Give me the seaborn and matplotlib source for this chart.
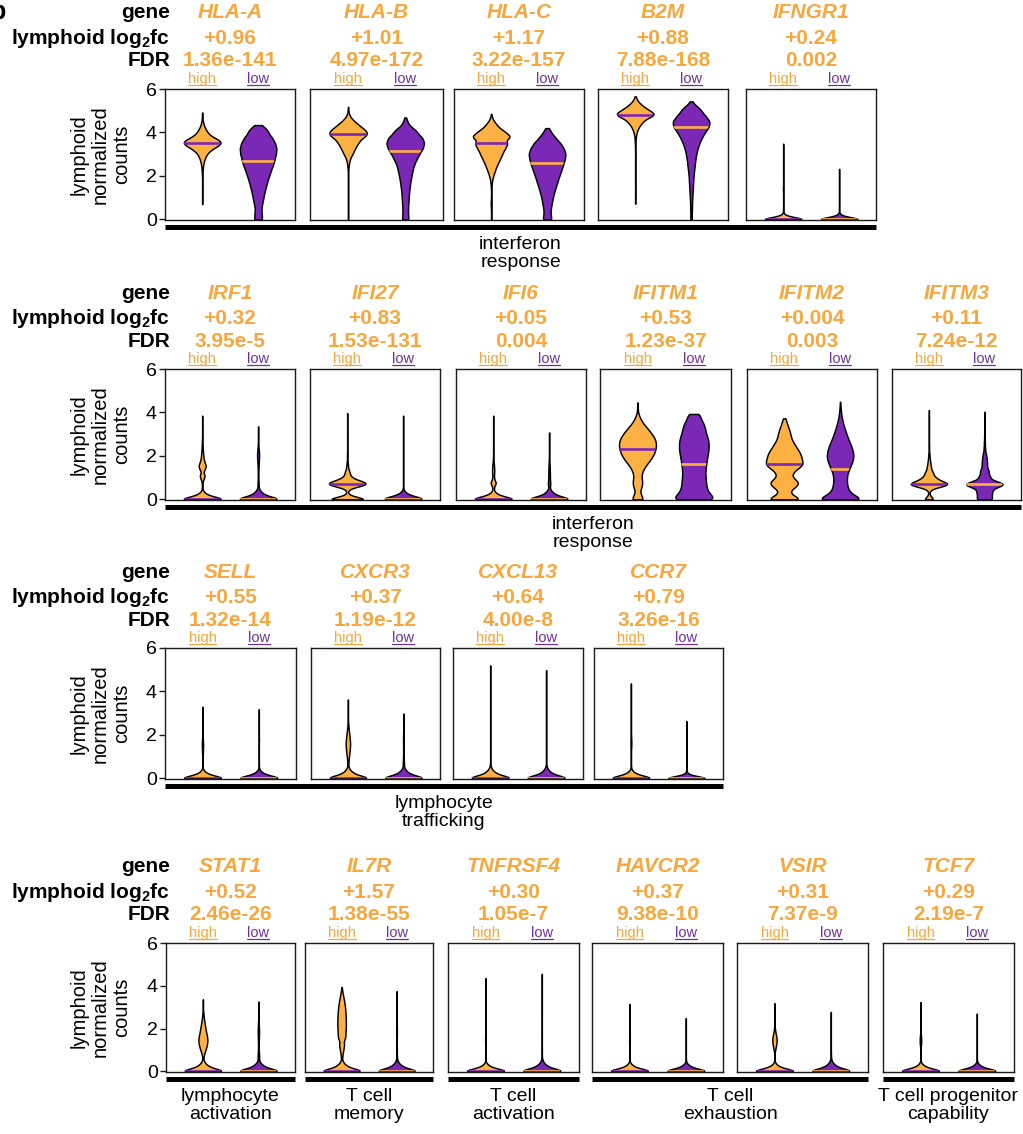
import numpy as np
import matplotlib
matplotlib.use("Agg")
import matplotlib.pyplot as plt
from matplotlib.lines import Line2D
import seaborn as sns

# ---------------------------------------------------------------- data
GROUPS = ["high", "low"]

# header values per row
row1_genes = ["HLA-A", "HLA-B", "HLA-C", "B2M", "IFNGR1"]
row1_log2fc = ["+0.96", "+1.01", "+1.17", "+0.88", "+0.24"]
row1_fdr = ["1.36e-141", "4.97e-172", "3.22e-157", "7.88e-168", "0.002"]
row1_high_median = [3.50, 3.93, 3.51, 4.82, 0.0]
row1_low_median = [2.70, 3.14, 2.59, 4.23, 0.0]

row2_genes = ["IRF1", "IFI27", "IFI6", "IFITM1", "IFITM2", "IFITM3"]
row2_log2fc = ["+0.32", "+0.83", "+0.05", "+0.53", "+0.004", "+0.11"]
row2_fdr = ["3.95e-5", "1.53e-131", "0.004", "1.23e-37", "0.003", "7.24e-12"]
row2_high_median = [0.0, 0.72, 0.0, 2.32, 1.61, 0.71]
row2_low_median = [0.0, 0.0, 0.0, 1.61, 1.38, 0.71]

row3_genes = ["SELL", "CXCR3", "CXCL13", "CCR7"]
row3_log2fc = ["+0.55", "+0.37", "+0.64", "+0.79"]
row3_fdr = ["1.32e-14", "1.19e-12", "4.00e-8", "3.26e-16"]
row3_high_median = [0.0, 0.0, 0.0, 0.0]
row3_low_median = [0.0, 0.0, 0.0, 0.0]

row4_genes = ["STAT1", "IL7R", "TNFRSF4", "HAVCR2", "VSIR", "TCF7"]
row4_log2fc = ["+0.52", "+1.57", "+0.30", "+0.37", "+0.31", "+0.29"]
row4_fdr = ["2.46e-26", "1.38e-55", "1.05e-7", "9.38e-10", "7.37e-9", "2.19e-7"]
row4_high_median = [0.0] * 6
row4_low_median = [0.0] * 6

# normalized-count distributions as (value, number of cells)
BASE_STD = [(0, 200), (0.1, 70), (0.2, 35), (0.3, 14), (0.4, 4)]
BASE_TALL = [(0, 200), (0.1, 80), (0.2, 45), (0.3, 25), (0.4, 12), (0.5, 5), (0.6, 2)]
BASE_SHORT = [(0, 200), (0.1, 28), (0.2, 7), (0.3, 1)]

HLA_A_high = [(0.7, 1), (1.1, 1), (1.5, 1), (1.9, 1), (2.2, 3), (2.45, 6), (2.7, 14), (2.95, 30),
              (3.2, 60), (3.4, 85), (3.55, 100), (3.7, 75), (3.9, 42), (4.1, 24), (4.3, 11),
              (4.5, 4), (4.7, 1), (4.92, 1)]
HLA_A_low = [(0, 12), (0.25, 10), (0.5, 9), (0.75, 12), (1.0, 15), (1.25, 18), (1.5, 22), (1.75, 26),
             (2.0, 31), (2.25, 36), (2.5, 42), (2.75, 46), (3.0, 50), (3.25, 52), (3.5, 48),
             (3.75, 40), (4.0, 27), (4.2, 16), (4.34, 4)]
HLA_B_high = [(0, 1), (0.5, 1), (1.0, 1), (1.5, 1), (2.0, 1), (2.3, 2), (2.55, 5), (2.8, 12),
              (3.05, 30), (3.3, 45), (3.55, 65), (3.8, 88), (4.0, 100), (4.2, 72), (4.4, 45),
              (4.6, 20), (4.8, 5), (5.0, 1), (5.18, 1)]
HLA_B_low = [(0, 10), (0.25, 8), (0.5, 8), (0.75, 9), (1.0, 10), (1.25, 11), (1.5, 13), (1.75, 15),
             (2.0, 18), (2.25, 21), (2.5, 25), (2.75, 32), (3.0, 40), (3.25, 50), (3.5, 55),
             (3.75, 50), (4.0, 32), (4.2, 18), (4.45, 7), (4.69, 2)]
HLA_C_high = [(0, 1), (0.4, 1), (0.72, 3), (1.0, 1), (1.4, 1), (1.7, 4), (2.0, 10), (2.25, 18),
              (2.5, 28), (2.75, 40), (3.0, 52), (3.25, 64), (3.5, 82), (3.8, 100), (4.05, 62),
              (4.3, 28), (4.5, 10), (4.7, 2), (4.85, 1)]
HLA_C_low = [(0, 14), (0.25, 10), (0.5, 11), (0.75, 14), (1.0, 17), (1.25, 21), (1.5, 26), (1.75, 31),
             (2.0, 36), (2.25, 42), (2.5, 47), (2.75, 52), (3.0, 55), (3.25, 50), (3.5, 40),
             (3.75, 25), (4.0, 12), (4.2, 3)]
B2M_high = [(0.72, 1), (1.2, 1), (1.7, 1), (2.2, 1), (2.7, 1), (3.2, 1), (3.5, 2), (3.75, 4),
            (4.0, 10), (4.25, 25), (4.5, 55), (4.75, 95), (4.9, 100), (5.1, 65), (5.3, 30),
            (5.5, 8), (5.66, 1)]
B2M_low = [(0, 3), (0.25, 2), (0.5, 3), (0.75, 3), (1.0, 4), (1.25, 5), (1.5, 6), (1.75, 7),
           (2.0, 8), (2.25, 10), (2.5, 12), (2.75, 14), (3.0, 17), (3.25, 21), (3.5, 27),
           (3.75, 35), (4.0, 45), (4.25, 58), (4.5, 62), (4.75, 48), (5.0, 32), (5.2, 15),
           (5.43, 3)]
IFNGR1_high = BASE_SHORT + [(0.5, 1), (0.9, 1), (1.4, 3), (1.8, 1), (2.2, 1), (2.6, 1), (3.0, 1),
                            (3.48, 1)]
IFNGR1_low = BASE_SHORT + [(0.5, 1), (0.9, 1), (1.3, 1), (1.7, 1), (2.0, 1), (2.32, 1)]

IRF1_high = BASE_STD + [(0.55, 3), (0.75, 4), (0.95, 15), (1.1, 25), (1.25, 8), (1.4, 25), (1.55, 35),
                        (1.7, 22), (1.85, 14), (2.0, 10), (2.15, 8), (2.3, 6), (2.45, 4), (2.6, 3),
                        (2.75, 2), (3.0, 1), (3.25, 1), (3.55, 1), (3.85, 1)]
IRF1_low = BASE_TALL + [(0.7, 5), (0.85, 4), (1.0, 3), (1.15, 3), (1.3, 3), (1.45, 4), (1.6, 5),
                        (1.75, 7), (1.9, 9), (2.05, 10), (2.2, 8), (2.35, 5), (2.5, 3), (2.65, 2),
                        (2.85, 1), (3.1, 1), (3.36, 1)]
IFI27_high = [(0, 190), (0.1, 30), (0.2, 8), (0.35, 3), (0.5, 10), (0.6, 55), (0.7, 140), (0.8, 95),
              (0.9, 50), (1.0, 28), (1.15, 24), (1.3, 18), (1.5, 10), (1.7, 6), (2.0, 3), (2.3, 1),
              (2.7, 1), (3.1, 1), (3.5, 1), (3.97, 1)]
IFI27_low = BASE_STD + [(0.6, 1), (0.9, 1), (1.3, 1), (1.7, 1), (2.1, 1), (2.5, 1), (2.9, 1),
                        (3.3, 1), (3.6, 1), (3.85, 1)]
IFI6_high = BASE_STD + [(0.5, 3), (0.6, 8), (0.75, 28), (0.9, 12), (1.05, 6), (1.2, 9), (1.35, 10),
                        (1.5, 8), (1.65, 6), (1.8, 3), (2.0, 2), (2.3, 1), (2.7, 1), (3.1, 1),
                        (3.5, 1), (3.85, 1)]
IFI6_low = BASE_TALL + [(0.7, 12), (0.85, 9), (1.0, 8), (1.15, 7), (1.3, 7), (1.45, 6), (1.6, 5),
                        (1.75, 3), (1.9, 2), (2.1, 1), (2.4, 1), (2.75, 1), (3.08, 1)]
IFITM1_high = [(0, 25), (0.2, 12), (0.4, 8), (0.6, 16), (0.8, 18), (1.0, 14), (1.2, 15), (1.4, 22),
               (1.6, 32), (1.8, 45), (2.0, 55), (2.2, 62), (2.4, 66), (2.6, 66), (2.8, 62),
               (3.0, 52), (3.2, 40), (3.4, 26), (3.6, 15), (3.8, 7), (4.0, 2), (4.2, 1), (4.46, 1)]
IFITM1_low = [(0, 60), (0.2, 45), (0.4, 36), (0.6, 33), (0.8, 32), (1.0, 31), (1.2, 30), (1.4, 31),
              (1.6, 32), (1.8, 34), (2.0, 36), (2.2, 38), (2.4, 39), (2.6, 39), (2.8, 37),
              (3.0, 33), (3.2, 30), (3.4, 28), (3.6, 22), (3.8, 15), (3.93, 10)]
IFITM2_high = [(0, 65), (0.2, 22), (0.4, 16), (0.6, 40), (0.8, 50), (1.0, 24), (1.2, 25), (1.4, 40),
               (1.6, 62), (1.8, 56), (2.0, 54), (2.2, 48), (2.4, 38), (2.6, 30), (2.8, 22),
               (3.0, 20), (3.2, 16), (3.4, 11), (3.6, 6), (3.73, 2)]
IFITM2_low = [(0, 85), (0.2, 42), (0.4, 28), (0.6, 24), (0.8, 22), (1.0, 22), (1.2, 24), (1.4, 30),
              (1.6, 36), (1.8, 42), (2.0, 44), (2.2, 42), (2.4, 38), (2.6, 32), (2.8, 26),
              (3.0, 21), (3.2, 16), (3.4, 12), (3.6, 8), (3.8, 5), (4.0, 3), (4.2, 2), (4.49, 1)]
IFITM3_high = [(0, 30), (0.1, 6), (0.2, 3), (0.35, 2), (0.5, 10), (0.6, 45), (0.7, 100), (0.8, 50),
               (0.9, 35), (1.0, 30), (1.15, 26), (1.3, 20), (1.5, 15), (1.7, 10), (1.9, 6),
               (2.1, 4), (2.4, 2), (2.7, 1), (3.0, 1), (3.4, 1), (3.8, 1), (4.11, 1)]
IFITM3_low = [(0, 45), (0.15, 35), (0.3, 40), (0.45, 40), (0.6, 60), (0.7, 80), (0.8, 55),
              (0.95, 30), (1.1, 30), (1.3, 30), (1.5, 18), (1.7, 18), (1.9, 15), (2.1, 11),
              (2.35, 6), (2.6, 4), (2.85, 2), (3.1, 1), (3.4, 1), (3.7, 1), (4.03, 1)]

SELL_high = BASE_STD + [(0.6, 1), (0.85, 1), (1.1, 3), (1.25, 4), (1.4, 5), (1.55, 6), (1.7, 5),
                        (1.85, 3), (2.1, 1), (2.5, 1), (2.9, 1), (3.3, 1)]
SELL_low = BASE_STD + [(0.7, 1), (1.0, 1), (1.4, 1), (1.8, 2), (2.2, 1), (2.6, 1), (2.9, 1),
                       (3.18, 1)]
CXCR3_high = BASE_TALL + [(0.7, 5), (0.85, 6), (1.0, 10), (1.15, 14), (1.3, 17),
                          (1.45, 20), (1.6, 21), (1.75, 19), (1.9, 16), (2.05, 13), (2.2, 9),
                          (2.35, 6), (2.5, 4), (2.7, 2), (2.95, 1), (3.25, 1), (3.63, 1)]
CXCR3_low = BASE_TALL + [(0.7, 6), (0.85, 4), (1.0, 3), (1.2, 3), (1.4, 3), (1.6, 4), (1.8, 4),
                         (2.0, 3), (2.2, 2), (2.5, 1), (2.75, 1), (2.98, 1)]
CXCL13_high = BASE_TALL + [(0.8, 1), (1.1, 1), (1.5, 1), (1.9, 1), (2.3, 1), (2.7, 1), (3.1, 1),
                           (3.5, 1), (3.9, 1), (4.3, 1), (4.7, 1), (5.2, 1)]
CXCL13_low = BASE_TALL + [(0.8, 1), (1.1, 1), (1.5, 1), (1.9, 1), (2.3, 1), (2.7, 1), (3.1, 1),
                          (3.5, 1), (3.9, 1), (4.3, 1), (4.65, 1), (4.98, 1)]
CCR7_high = BASE_STD + [(0.6, 2), (0.85, 1), (1.2, 1), (1.4, 3), (1.55, 4), (1.7, 4), (1.85, 3),
                        (2.0, 2), (2.4, 1), (2.8, 1), (3.2, 1), (3.6, 1), (4.0, 1), (4.37, 1)]
CCR7_low = BASE_SHORT + [(0.5, 1), (0.9, 1), (1.3, 1), (1.7, 1), (2.1, 1), (2.4, 1), (2.64, 1)]

STAT1_high = BASE_TALL + [(0.7, 6), (0.85, 14), (1.0, 24), (1.15, 33), (1.3, 40),
                          (1.45, 43), (1.6, 40), (1.75, 34), (1.9, 28), (2.05, 23), (2.2, 18),
                          (2.35, 13), (2.5, 9), (2.65, 6), (2.8, 3), (3.0, 1), (3.2, 1), (3.37, 1)]
STAT1_low = BASE_TALL + [(0.7, 8), (0.85, 5), (1.0, 4), (1.15, 3), (1.3, 3), (1.45, 4), (1.6, 5),
                         (1.75, 6), (1.9, 6), (2.05, 5), (2.2, 4), (2.35, 3), (2.55, 1),
                         (2.9, 1), (3.26, 1)]
IL7R_high = BASE_TALL + [(0.7, 6), (0.85, 11), (1.0, 16), (1.15, 21), (1.3, 26),
                         (1.5, 32), (1.65, 35), (1.8, 37), (1.95, 38), (2.1, 40), (2.25, 40),
                         (2.4, 40), (2.55, 39), (2.7, 37), (2.85, 35), (3.0, 32), (3.15, 28),
                         (3.3, 24), (3.45, 18), (3.6, 12), (3.75, 7), (3.94, 3)]
IL7R_low = BASE_TALL + [(0.7, 3), (0.9, 2), (1.1, 2), (1.3, 1), (1.6, 2), (1.8, 3), (2.0, 3),
                        (2.2, 2), (2.5, 1), (2.8, 1), (3.1, 1), (3.45, 1), (3.75, 1)]
TNFRSF4_high = BASE_STD + [(0.6, 1), (0.9, 1), (1.25, 2), (1.4, 3), (1.55, 3), (1.7, 2), (2.0, 1),
                           (2.4, 1), (2.8, 1), (3.2, 1), (3.6, 1), (4.0, 1), (4.36, 1)]
TNFRSF4_low = BASE_TALL + [(0.8, 1), (1.1, 1), (1.5, 1), (1.9, 1), (2.3, 1), (2.7, 1), (3.1, 1),
                           (3.5, 1), (3.9, 1), (4.25, 1), (4.56, 1)]
HAVCR2_high = BASE_STD + [(0.6, 1), (0.9, 1), (1.2, 2), (1.35, 3), (1.5, 3), (1.65, 2), (1.9, 1),
                          (2.3, 1), (2.7, 1), (3.15, 1)]
HAVCR2_low = BASE_STD + [(0.6, 1), (0.9, 1), (1.3, 1), (1.7, 1), (2.1, 1), (2.49, 1)]
VSIR_high = BASE_STD + [(0.7, 1), (0.9, 3), (1.05, 8), (1.2, 14), (1.35, 19), (1.5, 20), (1.65, 16),
                        (1.8, 10), (1.95, 5), (2.1, 2), (2.4, 1), (2.8, 1), (3.19, 1)]
VSIR_low = BASE_TALL + [(0.75, 2), (0.95, 1), (1.3, 1), (1.7, 1), (2.1, 1), (2.45, 1), (2.78, 1)]
TCF7_high = BASE_STD + [(0.6, 1), (0.9, 1), (1.15, 3), (1.3, 6), (1.45, 7), (1.6, 6), (1.75, 3),
                        (2.0, 1), (2.4, 1), (2.8, 1), (3.24, 1)]
TCF7_low = BASE_STD + [(0.6, 1), (0.9, 1), (1.3, 1), (1.7, 1), (2.1, 1), (2.45, 1), (2.7, 1)]

row1_high = [HLA_A_high, HLA_B_high, HLA_C_high, B2M_high, IFNGR1_high]
row1_low = [HLA_A_low, HLA_B_low, HLA_C_low, B2M_low, IFNGR1_low]
row2_high = [IRF1_high, IFI27_high, IFI6_high, IFITM1_high, IFITM2_high, IFITM3_high]
row2_low = [IRF1_low, IFI27_low, IFI6_low, IFITM1_low, IFITM2_low, IFITM3_low]
row3_high = [SELL_high, CXCR3_high, CXCL13_high, CCR7_high]
row3_low = [SELL_low, CXCR3_low, CXCL13_low, CCR7_low]
row4_high = [STAT1_high, IL7R_high, TNFRSF4_high, HAVCR2_high, VSIR_high, TCF7_high]
row4_low = [STAT1_low, IL7R_low, TNFRSF4_low, HAVCR2_low, VSIR_low, TCF7_low]

row1_groups = [(0, 4, "interferon\nresponse")]
row2_groups = [(0, 5, "interferon\nresponse")]
row3_groups = [(0, 3, "lymphocyte\ntrafficking")]
row4_groups = [(0, 0, "lymphocyte\nactivation"), (1, 1, "T cell\nmemory"),
               (2, 2, "T cell\nactivation"), (3, 4, "T cell\nexhaustion"),
               (5, 5, "T cell progenitor\ncapability")]

# ---------------------------------------------------------------- style / layout
sns.set_theme(style="white")
plt.rcParams["font.family"] = ["Liberation Sans", "DejaVu Sans"]
plt.rcParams["mathtext.fontset"] = "custom"
plt.rcParams["mathtext.rm"] = "Liberation Sans"
plt.rcParams["mathtext.bf"] = "Liberation Sans:bold"
plt.rcParams["mathtext.it"] = "Liberation Sans:italic"
plt.rcParams["text.color"] = "black"
plt.rcParams["ytick.color"] = "black"
plt.rcParams["ytick.labelcolor"] = "black"

ORANGE_FILL = "#FDB143"
PURPLE_FILL = "#7C28B6"
ORANGE_TEXT = "#F9A63C"
PURPLE_TEXT = "#7030A0"
SPINE = "#1a1a1a"

W, H = 1023, 1134
fig = plt.figure(figsize=(W / 100, H / 100), dpi=100)

# panel geometry in pixels: x extents, top, bottom; kernel bandwidth per panel
row1_x = [(165, 295), (310, 443), (454, 584), (598, 728), (746, 876)]
row2_x = [(165, 295), (310, 440), (456, 586), (600, 731), (747, 877), (892, 1021)]
row3_x = [(165, 296), (311, 440), (453, 583), (594, 723)]
row4_x = [(166, 295), (305, 433), (448, 579), (592, 723), (737, 868), (883, 1014)]
row1_bw = [0.14, 0.14, 0.14, 0.14, 0.09]
row2_bw = [0.09, 0.10, 0.09, 0.14, 0.14, 0.10]
row3_bw = [0.09] * 4
row4_bw = [0.09] * 6

rows = [
    dict(genes=row1_genes, fc=row1_log2fc, fdr=row1_fdr, hi=row1_high, lo=row1_low,
         hmed=row1_high_median, lmed=row1_low_median, xs=row1_x, top=89, bot=220,
         groups=row1_groups, bw=row1_bw),
    dict(genes=row2_genes, fc=row2_log2fc, fdr=row2_fdr, hi=row2_high, lo=row2_low,
         hmed=row2_high_median, lmed=row2_low_median, xs=row2_x, top=369, bot=500,
         groups=row2_groups, bw=row2_bw),
    dict(genes=row3_genes, fc=row3_log2fc, fdr=row3_fdr, hi=row3_high, lo=row3_low,
         hmed=row3_high_median, lmed=row3_low_median, xs=row3_x, top=648, bot=779,
         groups=row3_groups, bw=row3_bw),
    dict(genes=row4_genes, fc=row4_log2fc, fdr=row4_fdr, hi=row4_high, lo=row4_low,
         hmed=row4_high_median, lmed=row4_low_median, xs=row4_x, top=943, bot=1072,
         groups=row4_groups, bw=row4_bw),
]


def fx(px):
    return px / W


def fy(py):
    return 1 - py / H


def expand(profile):
    vals = np.array([v for v, _ in profile], float)
    cnts = np.array([c for _, c in profile], int)
    return np.repeat(vals, cnts)


def draw_violin(ax, profile, group, fill, med, med_color, h):
    y = expand(profile)
    n_before = len(ax.collections)
    sns.violinplot(x=[group] * len(y), y=y, order=GROUPS, ax=ax, color=fill,
                   saturation=1, inner=None, cut=0, bw_method=h / y.std(ddof=1),
                   density_norm="width", width=0.655, linewidth=1.05, linecolor="black")
    body = ax.collections[n_before]
    pos = GROUPS.index(group)
    line, = ax.plot([pos - 0.5, pos + 0.5], [med, med], color=med_color, lw=1.9,
                    solid_capstyle="butt", zorder=body.get_zorder() + 0.5)
    line.set_clip_path(body.get_paths()[0], ax.transData)


hl_texts = []
for r in rows:
    top, bot = r["top"], r["bot"]
    # row header labels
    fig.text(fx(170), fy(top - 76), "gene", ha="right", va="center",
             fontsize=15, fontweight="bold")
    fig.text(fx(170), fy(top - 51), r"lymphoid log$_\mathbf{2}$fc", ha="right",
             va="center", fontsize=15, fontweight="bold")
    fig.text(fx(170), fy(top - 28), "FDR", ha="right", va="center",
             fontsize=15, fontweight="bold")
    for i, (x0, x1) in enumerate(r["xs"]):
        ax = fig.add_axes([fx(x0), fy(bot), (x1 - x0) / W, (bot - top) / H])
        draw_violin(ax, r["hi"][i], "high", ORANGE_FILL, r["hmed"][i], PURPLE_FILL, r["bw"][i])
        draw_violin(ax, r["lo"][i], "low", PURPLE_FILL, r["lmed"][i], ORANGE_FILL, r["bw"][i])
        ax.set_xlim(-0.665, 1.66)
        ax.set_ylim(-0.03, 6.0)
        ax.set_xticks([])
        ax.set_xlabel("")
        ax.set_ylabel("")
        for s in ax.spines.values():
            s.set_color(SPINE)
            s.set_linewidth(1.0)
        if i == 0:
            ax.set_yticks([0, 2, 4, 6])
            ax.tick_params(axis="y", left=True, length=4, width=1, pad=2,
                           labelsize=14, color=SPINE, labelcolor="black")
        else:
            ax.set_yticks([])
        cx = fx((x0 + x1) / 2)
        fig.text(cx, fy(top - 76), r["genes"][i], ha="center", va="center", fontsize=15,
                 fontweight="bold", fontstyle="italic", color=ORANGE_TEXT)
        fig.text(cx, fy(top - 51), r["fc"][i], ha="center", va="center", fontsize=15,
                 fontweight="bold", color=ORANGE_TEXT)
        fig.text(cx, fy(top - 28), r["fdr"][i], ha="center", va="center", fontsize=15,
                 fontweight="bold", color=ORANGE_TEXT)
        trans = ax.get_xaxis_transform()
        yl = 1 + 10 / (bot - top)
        hl_texts.append((ax.text(0, yl, "high", transform=trans, ha="center", va="center",
                                 fontsize=10.5, color=ORANGE_TEXT), ORANGE_TEXT))
        hl_texts.append((ax.text(1, yl, "low", transform=trans, ha="center", va="center",
                                 fontsize=10.5, color=PURPLE_TEXT), PURPLE_TEXT))
    # y axis title
    fig.text(fx(100), fy((top + bot) / 2), "lymphoid\nnormalized\ncounts", rotation=90,
             ha="center", va="center", fontsize=14.5, linespacing=1.15, multialignment="center")
    # category bars with labels
    bar_y = bot + 6.5
    for a, b, label in r["groups"]:
        xa, xb = r["xs"][a][0], r["xs"][b][1]
        fig.add_artist(Line2D([fx(xa), fx(xb)], [fy(bar_y), fy(bar_y)], color="black",
                              lw=3.6, solid_capstyle="butt", transform=fig.transFigure))
        fig.text(fx((xa + xb) / 2), fy(bar_y + 27), label, ha="center", va="center",
                 fontsize=14, linespacing=1.12)

fig.text(fx(6), fy(12), "b", ha="right", va="center", fontsize=18, fontweight="bold")

# underline the high / low group labels
fig.canvas.draw()
renderer = fig.canvas.get_renderer()
for t, col in hl_texts:
    bb = t.get_window_extent(renderer)
    yb = bb.y0 + 1.0
    fig.add_artist(Line2D([bb.x0 / W, bb.x1 / W], [yb / H, yb / H], color=col, lw=0.9,
                          transform=fig.transFigure))

fig.savefig("out.png", dpi=100)
